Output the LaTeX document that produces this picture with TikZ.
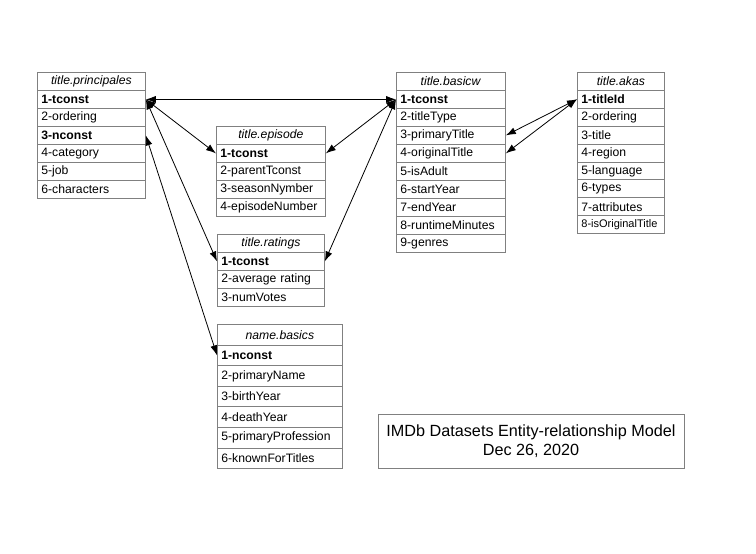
\documentclass[tikz,border=0pt]{standalone}
\usepackage{fontspec}
\setmainfont{Liberation Sans}
\usetikzlibrary{arrows.meta}
\definecolor{boxgray}{gray}{0.5}
\tikzset{
  cell/.style={draw=boxgray, line width=0.8pt, inner xsep=4pt, inner ysep=0pt,
    anchor=north west, font=\fontsize{12.2}{14}\selectfont},
  link/.style={line width=0.8pt, {Latex[length=10pt,width=7pt]}-{Latex[length=10pt,width=7pt]}},
  titlebox/.style={draw=boxgray, line width=0.8pt, align=center,
    font=\fontsize{16.2}{19}\selectfont},
}
% #1 name, #2 left x, #3 top y, #4 width, #5 row height, #6 header, #7 rows
\newcommand\erdtable[7]{%
  \node[cell, minimum width=#4pt, minimum height=#5pt, text width=\dimexpr #4pt-8pt\relax, align=center]
    (#1-0) at (#2,#3) {\textit{#6}};
  \foreach \t [count=\i] in {#7} {
    \pgfmathsetmacro\yy{#3+\i*#5}
    \node[cell, minimum height=#5pt, text width=\dimexpr #4pt-8pt\relax, align=left]
      (#1-\i) at (#2,\yy) {\t};
  }%
}
\begin{document}
\begin{tikzpicture}[x=1pt,y=-1pt]
\useasboundingbox (0,0) rectangle (756,554);

\erdtable{pr}{37}{72}{108}{18}{title.principales}{\textbf{1-tconst},2-ordering,\textbf{3-nconst},4-category,5-job,6-characters}
\erdtable{ep}{216}{126}{109}{18}{title.episode}{\textbf{1-tconst},2-parentTconst,3-seasonNymber,4-episodeNumber}
\erdtable{bw}{396}{72}{109}{18}{title.basicw}{\textbf{1-tconst},2-titleType,3-primaryTitle,4-originalTitle,5-isAdult,6-startYear,7-endYear,8-runtimeMinutes,9-genres}
\erdtable{ak}{577}{72}{87}{17.9}{title.akas}{\textbf{1-titleId},2-ordering,3-title,4-region,5-language,6-types,7-attributes,{\fontsize{11}{12}\selectfont 8-isOriginalTitle}}
\erdtable{ra}{217}{234}{107}{18}{title.ratings}{\textbf{1-tconst},2-average rating,3-numVotes}
\erdtable{nb}{217}{324}{125}{20.6}{name.basics}{\textbf{1-nconst},2-primaryName,3-birthYear,4-deathYear,5-primaryProfession,6-knownForTitles}

\node[titlebox, minimum width=306pt, minimum height=54pt] (ttl) at (531,441)
  {IMDb Datasets Entity-relationship Model\\Dec 26, 2020};

\draw[link] (pr-1.east) -- (bw-1.west);
\draw[link] (pr-1.east) -- (ep-1.west);
\draw[link] (pr-1.east) -- (ra-1.west);
\draw[link] (bw-1.west) -- (ep-1.east);
\draw[link] (bw-1.west) -- (ra-1.east);
\draw[link] (pr-3.east) -- (nb-1.west);
\draw[link] (ak-1.west) -- (bw-3.east);
\draw[link] (ak-1.west) -- (bw-4.east);
\end{tikzpicture}
\end{document}
